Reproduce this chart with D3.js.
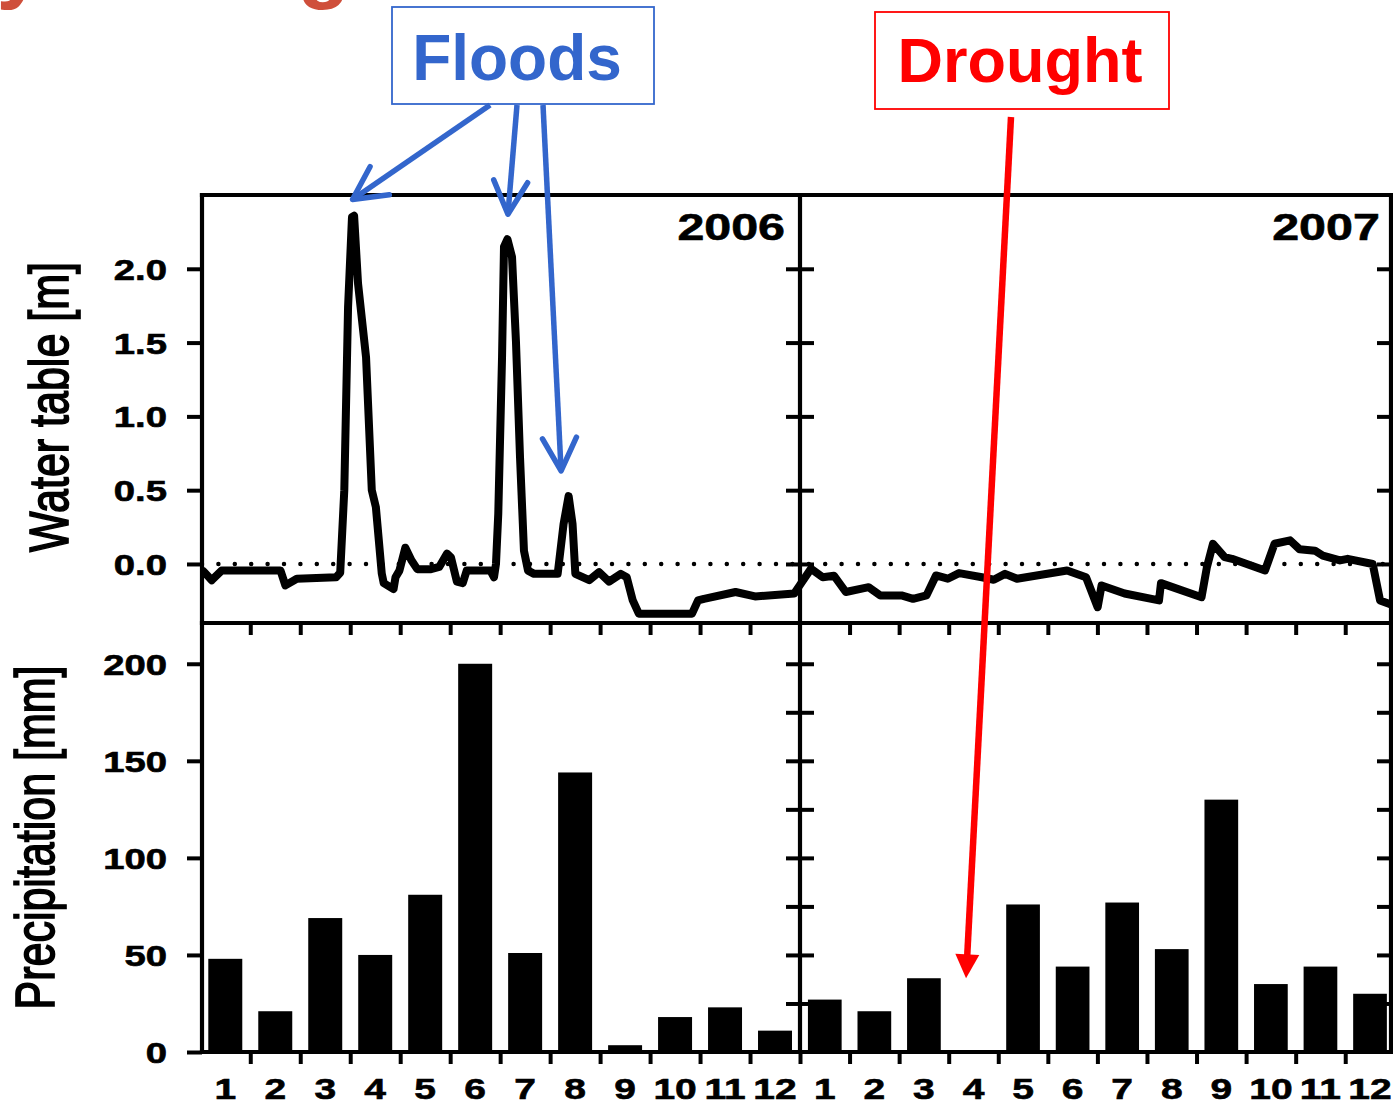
<!DOCTYPE html>
<html>
<head>
<meta charset="utf-8">
<script src="https://d3js.org/d3.v7.min.js"></script>
<style>
    body { margin: 0; background: #fff; }
    text { font-family: Arial, "Liberation Sans", sans-serif; }
</style>
</head>
<body>
<svg id="chart" width="1393" height="1105"></svg>
<script>
// ---- data ----
var months = ["1", "2", "3", "4", "5", "6", "7", "8", "9", "10", "11", "12"];
var yearLabels = ["2006", "2007"];

// monthly precipitation [mm]
var precip2006 = [48, 21, 69, 50, 81, 200, 51, 144, 3.5, 18, 23, 11];
var precip2007 = [27, 21, 38, 0, 76, 44, 77, 53, 130, 35, 44, 30];

// water table [m], as [day since 1 Jan 2006, level]
var waterTable2006 = [
    [2, -0.05], [7, -0.11], [13, -0.045], [49, -0.045], [52, -0.145], [59, -0.10], [83, -0.09],
    [85.5, -0.06], [88, 0.5], [90.3, 1.74], [92.7, 2.35], [94, 2.36], [96.4, 1.9], [101.3, 1.4],
    [104.8, 0.5], [107.3, 0.385], [110.9, -0.065], [112.1, -0.13], [118.1, -0.17], [119.3, -0.09],
    [121.7, -0.045], [125.3, 0.11], [129, 0.025], [132.6, -0.035], [141, -0.035], [146, -0.02],
    [150.8, 0.07], [153.2, 0.045], [156.8, -0.12], [160.4, -0.13], [162.8, -0.045], [177.3, -0.045],
    [179.5, -0.09], [180.7, 0], [182.1, 0.34], [184.4, 1.4], [185.6, 2.15], [187.7, 2.2], [190.5, 2.08],
    [192.9, 1.51], [195.4, 0.72], [197.8, 0.09], [200.3, -0.045], [204, -0.067], [218.4, -0.067],
    [222, 0.27], [225.1, 0.46], [227.5, 0.27], [229.2, -0.067], [237.7, -0.11], [243.7, -0.055],
    [249.8, -0.12], [257, -0.067], [260.6, -0.09], [264.3, -0.247], [268, -0.337], [300.5, -0.337],
    [304.2, -0.247], [307.8, -0.236], [327.1, -0.19], [339, -0.22], [363, -0.2]
];
var waterTable2007 = [
    [366, -0.15], [373.2, -0.033], [380.4, -0.09], [387.3, -0.08], [394.5, -0.19], [408.5, -0.157],
    [415.6, -0.213], [428.5, -0.213], [435.6, -0.236], [443.8, -0.213], [449.6, -0.078], [456.8, -0.10],
    [463.7, -0.062], [477.7, -0.09], [484.9, -0.107], [491.8, -0.067], [499.1, -0.10], [529.7, -0.044],
    [541.3, -0.09], [548.4, -0.293], [550.8, -0.146], [564.9, -0.20], [585.9, -0.247], [587.1, -0.13],
    [611.9, -0.225], [615.2, -0.02], [618.9, 0.137], [626, 0.046], [630.5, 0.035], [650.7, -0.044],
    [656.5, 0.137], [666, 0.16], [671.8, 0.10], [681.2, 0.09], [686, 0.057], [696.5, 0.024],
    [701.2, 0.035], [716.5, 0.0], [721, -0.247], [729, -0.28]
];

var waterTicks = [0, 0.5, 1, 1.5, 2];
var precipTicks = [0, 50, 100, 150, 200];
var precipMinorTicks = [25, 50, 75, 100, 125, 150, 175, 200];

// ---- layout ----
var L = 202, M = 800, R = 1391;
var yTop = 195, yMid = 623, yBot = 1052;
var stretch = 1.32;       // the original figure's text is widened horizontally
var blue = "#3366CC", red = "#FF0000";

var svg = d3.select("#chart");
var defs = svg.append("defs");

var xDay = d3.scaleLinear().domain([0, 730]).range([200.3, 1394.8]);
var yWater = d3.scaleLinear().domain([-0.4, 2.5]).range([yMid, yTop]);
var yPrecip = d3.scaleLinear().domain([0, 221]).range([yBot, yMid]);
var xMonth = [
    d3.scaleLinear().domain([0, 12]).range([200.3, 800]),
    d3.scaleLinear().domain([0, 12]).range([800, 1394.8])
];
var xBand = xMonth.map(function(s) {
    return d3.scaleBand().domain(months).range(s.range()).paddingInner(0.32).paddingOuter(0.16);
});

// cut-off slide title above the chart
svg.append("text")
    .attr("x", -362).attr("y", -8)
    .attr("font-size", 86).attr("font-weight", "bold")
    .attr("fill", "#CF4F3B")
    .text("Variability among");

// ---- precipitation bars ----
[precip2006, precip2007].forEach(function(vals, i) {
    svg.append("g").selectAll("rect").data(vals).join("rect")
        .attr("x", function(d, j) { return xBand[i](months[j]); })
        .attr("y", function(d) { return yPrecip(d); })
        .attr("width", xBand[i].bandwidth())
        .attr("height", function(d) { return yPrecip(0) - yPrecip(d); })
        .attr("fill", "#000");
});

// ---- water table ----
defs.append("clipPath").attr("id", "topClip")
    .append("rect").attr("x", L).attr("y", yTop).attr("width", R - L).attr("height", yMid - yTop);

svg.append("line")
    .attr("x1", L).attr("x2", R)
    .attr("y1", yWater(0)).attr("y2", yWater(0))
    .attr("stroke", "#000").attr("stroke-width", 4.5)
    .attr("stroke-dasharray", "0 16.4").attr("stroke-linecap", "round");

var waterLine = d3.line()
    .x(function(d) { return xDay(d[0]); })
    .y(function(d) { return yWater(d[1]); });

svg.append("path")
    .datum(waterTable2006.concat(waterTable2007))
    .attr("d", waterLine)
    .attr("clip-path", "url(#topClip)")
    .attr("fill", "none").attr("stroke", "#000").attr("stroke-width", 8)
    .attr("stroke-linejoin", "round").attr("stroke-linecap", "round");

// ---- frame ----
var frame = [
    [L, yTop, R, yTop], [L, yMid, R, yMid], [L, yBot, R, yBot],
    [L, yTop, L, yBot], [M, yTop, M, yBot], [R, yTop, R, yBot]
];
svg.append("g").selectAll("line").data(frame).join("line")
    .attr("x1", function(d) { return d[0]; }).attr("y1", function(d) { return d[1]; })
    .attr("x2", function(d) { return d[2]; }).attr("y2", function(d) { return d[3]; })
    .attr("stroke", "#000").attr("stroke-width", 4.2).attr("stroke-linecap", "square");

// ---- axes ----
function ticksOnly(g) {
    g.select(".domain").remove();
    g.selectAll(".tick line").attr("stroke", "#000").attr("stroke-width", 4);
}
function leftLabels(g) {
    g.selectAll(".tick text")
        .attr("x", -35 / stretch).attr("dy", "0.36em")
        .attr("transform", "scale(" + stretch + ",1)")
        .attr("font-family", "Arial, 'Liberation Sans', sans-serif")
        .attr("font-size", 29).attr("font-weight", "bold").attr("fill", "#000")
        .attr("stroke", "#000").attr("stroke-width", 0.6);
}

var gw = svg.append("g").attr("transform", "translate(" + L + ",0)")
    .call(d3.axisLeft(yWater).tickValues(waterTicks).tickSize(15).tickFormat(d3.format(".1f")));
ticksOnly(gw); leftLabels(gw);

var gp = svg.append("g").attr("transform", "translate(" + L + ",0)")
    .call(d3.axisLeft(yPrecip).tickValues(precipTicks).tickSize(15).tickFormat(d3.format("d")));
ticksOnly(gp); leftLabels(gp);

// inward ticks on the inner and right edges
[[yWater, waterTicks], [yPrecip, precipMinorTicks]].forEach(function(p) {
    [[M, d3.axisRight], [M, d3.axisLeft], [R, d3.axisRight]].forEach(function(e) {
        var g = svg.append("g").attr("transform", "translate(" + e[0] + ",0)")
            .call(e[1](p[0]).tickValues(p[1]).tickSize(-14).tickFormat(""));
        ticksOnly(g);
    });
});

// month boundary ticks and month labels
xMonth.forEach(function(s, i) {
    var gb = svg.append("g").attr("transform", "translate(0," + yBot + ")")
        .call(d3.axisBottom(s).tickValues(d3.range(1, i === 0 ? 13 : 12)).tickSize(12).tickFormat(""));
    ticksOnly(gb);

    var gt = svg.append("g").attr("transform", "translate(0," + yMid + ")")
        .call(d3.axisBottom(s).tickValues(d3.range(1, 12)).tickSize(12).tickFormat(""));
    ticksOnly(gt);

    var gm = svg.append("g").attr("transform", "translate(0," + yBot + ")")
        .call(d3.axisBottom(xBand[i]).tickSize(0));
    gm.select(".domain").remove();
    gm.selectAll(".tick text")
        .attr("y", 47).attr("dy", 0)
        .attr("transform", "scale(1.3,1)")
        .attr("font-family", "Arial, 'Liberation Sans', sans-serif")
        .attr("font-size", 30).attr("font-weight", "bold").attr("fill", "#000")
        .attr("stroke", "#000").attr("stroke-width", 0.6);

    // year label in the upper right corner of each panel
    svg.append("text")
        .attr("transform", "translate(" + (s.range()[1] - 15) + "," + (yTop + 45) + ") scale(1.29,1)")
        .attr("text-anchor", "end")
        .attr("font-size", 37.5).attr("font-weight", "bold").attr("fill", "#000")
        .attr("stroke", "#000").attr("stroke-width", 0.6)
        .text(yearLabels[i]);
});

// axis titles
svg.append("text")
    .attr("transform", "translate(68," + ((yTop + yMid) / 2 - 2) + ") rotate(-90) scale(1,1.3)")
    .attr("text-anchor", "middle").attr("font-size", 43).attr("fill", "#000")
    .attr("stroke", "#000").attr("stroke-width", 1.3)
    .text("Water table [m]");
svg.append("text")
    .attr("transform", "translate(54," + ((yMid + yBot) / 2) + ") rotate(-90) scale(1,1.3)")
    .attr("text-anchor", "middle").attr("font-size", 43).attr("fill", "#000")
    .attr("stroke", "#000").attr("stroke-width", 1.3)
    .text("Precipitation [mm]");

// ---- annotations ----
defs.append("marker").attr("id", "vhead")
    .attr("markerUnits", "userSpaceOnUse").attr("viewBox", "-40 -22 50 44")
    .attr("refX", 0).attr("refY", 0).attr("markerWidth", 50).attr("markerHeight", 44)
    .attr("orient", "auto")
    .append("path").attr("d", "M-33,-17L0,0L-33,17")
    .attr("fill", "none").attr("stroke", blue).attr("stroke-width", 5.5)
    .attr("stroke-linejoin", "round").attr("stroke-linecap", "round");

defs.append("marker").attr("id", "trihead")
    .attr("markerUnits", "userSpaceOnUse").attr("viewBox", "-30 -15 45 30")
    .attr("refX", 0).attr("refY", 0).attr("markerWidth", 45).attr("markerHeight", 30)
    .attr("orient", "auto")
    .append("path").attr("d", "M-14,-12L10,0L-14,12Z").attr("fill", red);

// Floods box
svg.append("rect").attr("x", 392).attr("y", 7).attr("width", 262).attr("height", 97)
    .attr("fill", "#fff").attr("stroke", blue).attr("stroke-width", 1.8);
svg.append("text").attr("x", 517).attr("y", 80).attr("text-anchor", "middle")
    .attr("font-size", 64).attr("font-weight", "bold").attr("fill", blue)
    .text("Floods");

var floodArrows = [
    { from: [490, 105], to: [93, 2.47] },
    { from: [517, 105], to: [188, 2.37] },
    { from: [543, 105], to: [220.5, 0.63] }
];
svg.append("g").selectAll("line").data(floodArrows).join("line")
    .attr("x1", function(d) { return d.from[0]; }).attr("y1", function(d) { return d.from[1]; })
    .attr("x2", function(d) { return xDay(d.to[0]); }).attr("y2", function(d) { return yWater(d.to[1]); })
    .attr("stroke", blue).attr("stroke-width", 5.5)
    .attr("marker-end", "url(#vhead)");

// Drought box
svg.append("rect").attr("x", 875).attr("y", 12).attr("width", 294).attr("height", 97)
    .attr("fill", "#fff").attr("stroke", red).attr("stroke-width", 1.8);
svg.append("text").attr("x", 1020).attr("y", 82).attr("text-anchor", "middle")
    .attr("font-size", 63).attr("font-weight", "bold").attr("fill", red)
    .text("Drought");

// arrow points at the missing April 2007 bar
var dFrom = [1011, 117];
var dTip = [xMonth[1](3.35), yPrecip(38)];
var dLen = Math.hypot(dTip[0] - dFrom[0], dTip[1] - dFrom[1]);
svg.append("line")
    .attr("x1", dFrom[0]).attr("y1", dFrom[1])
    .attr("x2", dTip[0] - 10 * (dTip[0] - dFrom[0]) / dLen)
    .attr("y2", dTip[1] - 10 * (dTip[1] - dFrom[1]) / dLen)
    .attr("stroke", red).attr("stroke-width", 6.5)
    .attr("marker-end", "url(#trihead)");
</script>
</body>
</html>
